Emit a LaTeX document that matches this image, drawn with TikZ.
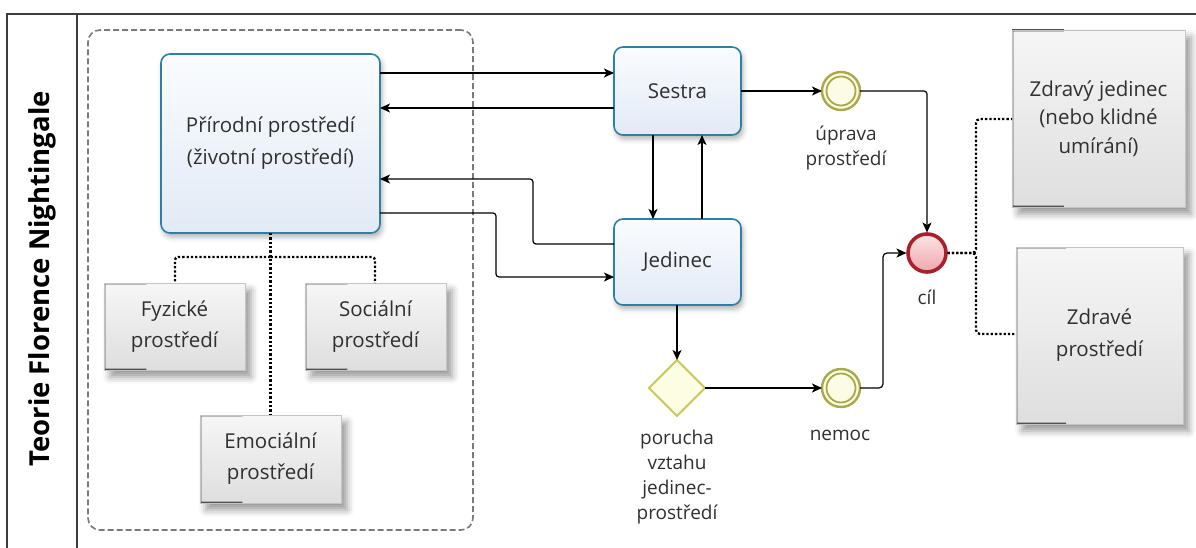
\documentclass[tikz,border=0pt]{standalone}
\usepackage{fontspec}
\setmainfont{Open Sans}
\usetikzlibrary{arrows.meta,shapes.geometric,shadows.blur,calc}

\definecolor{frameline}{HTML}{3C3C3C}
\definecolor{groupdash}{HTML}{7A7A7A}
\definecolor{taskborder}{HTML}{2F7EA6}
\definecolor{tasktop}{HTML}{FAFCFE}
\definecolor{taskbottom}{HTML}{E2EAF6}
\definecolor{databorder}{HTML}{C4C4C4}
\definecolor{dataedge}{HTML}{505050}
\definecolor{datatop}{HTML}{F6F6F6}
\definecolor{databottom}{HTML}{DEDEDE}
\definecolor{eventring}{HTML}{A9A94A}
\definecolor{eventfill}{HTML}{FBFBE6}
\definecolor{endring}{HTML}{A8202C}
\definecolor{endtop}{HTML}{FCE4E4}
\definecolor{endbottom}{HTML}{EEA6AE}
\definecolor{gateborder}{HTML}{C8C85A}
\definecolor{gatefill}{HTML}{FDFDE3}
\definecolor{textgray}{HTML}{303030}

\tikzset{
  frame/.style={draw=frameline, line width=1.2pt},
  groupbox/.style={rectangle, draw=groupdash, line width=1.6pt, rounded corners=12pt,
    dash pattern=on 6pt off 3pt, inner sep=0pt, outer sep=0pt},
  taskbox/.style={rectangle, rounded corners=9pt, draw=taskborder, line width=1.6pt,
    top color=tasktop, bottom color=taskbottom, align=center, text=textgray,
    font=\fontsize{20.5}{32}\selectfont, inner sep=0pt, outer sep=0pt,
    blur shadow={shadow xshift=2pt, shadow yshift=-4pt, shadow blur radius=5pt, shadow opacity=30}},
  databox/.style={rectangle, draw=databorder, line width=0.8pt,
    top color=datatop, bottom color=databottom, align=center, text=textgray,
    font=\fontsize{20.5}{31}\selectfont, inner sep=0pt, outer sep=0pt,
    blur shadow={shadow xshift=6pt, shadow yshift=-7pt, shadow blur radius=7pt, shadow opacity=40},
    path picture={
      \draw[dataedge, line width=2.6pt]
        ($(path picture bounding box.north west)!0.3!(path picture bounding box.north east)$)
        -- (path picture bounding box.north west)
        -- (path picture bounding box.south west)
        -- ($(path picture bounding box.south west)!0.3!(path picture bounding box.south east)$);
    }},
  eventnode/.style={circle, minimum size=38pt, inner sep=0pt, outer sep=0pt,
    draw=eventring, line width=2.4pt, fill=eventfill,
    path picture={\draw[eventring, line width=1.8pt]
      (path picture bounding box.center) circle[radius=14.5pt];}},
  endnode/.style={circle, minimum size=38pt, inner sep=0pt, outer sep=1.5pt,
    draw=endring, line width=3.6pt, top color=endtop, bottom color=endbottom},
  gatenode/.style={diamond, minimum width=56pt, minimum height=56pt, inner sep=0pt,
    outer sep=0pt, draw=gateborder, line width=2pt, fill=gatefill},
  lbl/.style={align=center, text=textgray, font=\fontsize{19}{25}\selectfont, inner sep=0pt},
  arr/.style={draw=black, line width=1.2pt,
    -{Stealth[length=10pt, width=9pt, inset=2.5pt]}},
  dotline/.style={draw=black, line width=2.3pt, dash pattern=on 2.3pt off 2pt}
}

\begin{document}
\begin{tikzpicture}[x=1pt, y=-1pt]
  \useasboundingbox (0,0) rectangle (1196,548);

  % lane frame and title
  \draw[frame] (1196,14) -- (7,14) -- (7,548);
  \draw[frame] (77,14) -- (77,548);
  \node[rotate=90, font=\bfseries\fontsize{27.5}{30}\selectfont, text=black] (lane) at (42,279)
    {Teorie Florence Nightingale};

  % environment group
  \node[groupbox, minimum width=385pt, minimum height=500pt] (grp) at (280.5,280) {};

  % environment nodes
  \node[taskbox, minimum width=219pt, minimum height=179pt] (prir) at (270.5,143.5)
    {Přírodní prostředí\\(životní prostředí)};
  \node[databox, minimum width=141pt, minimum height=87pt] (fyz) at (174.5,326.5)
    {Fyzické\\prostředí};
  \node[databox, minimum width=141pt, minimum height=87pt] (soc) at (375.5,326.5)
    {Sociální\\prostředí};
  \node[databox, minimum width=141pt, minimum height=88pt] (emo) at (270.5,459)
    {Emociální\\prostředí};

  % actors
  \node[taskbox, minimum width=127pt, minimum height=88pt] (sestra) at (677.5,91) {Sestra};
  \node[taskbox, minimum width=127pt, minimum height=86pt] (jedinec) at (677.5,262) {Jedinec};

  % events and gateway
  \node[eventnode] (upr) at (841,91) {};
  \node[eventnode] (nemoc) at (841,388) {};
  \node[endnode] (cil) at (927,253) {};
  \node[gatenode] (gate) at (677,388) {};

  \node[lbl] (uprlbl) at (846,148) {úprava\\prostředí};
  \node[lbl] (cillbl) at (927,297) {cíl};
  \node[lbl] (nemoclbl) at (840,435) {nemoc};
  \node[lbl] (gatelbl) at (677,477) {porucha\\vztahu\\jedinec-\\prostředí};

  % outcomes
  \node[databox, minimum width=173pt, minimum height=177pt,
    font=\fontsize{20.5}{28.5}\selectfont] (zj) at (1098.5,118.5)
    {Zdravý jedinec\\(nebo klidné\\umírání)};
  \node[databox, minimum width=167pt, minimum height=177pt,
    font=\fontsize{20.5}{32}\selectfont] (zp) at (1099.5,335.5)
    {Zdravé\\prostředí};

  % associations inside the group
  \draw[dotline] (prir.south) -- (emo.north);
  \draw[dotline, rounded corners=3pt] (270.5,257) -- (175,257) -- (fyz.north -| 175,0);
  \draw[dotline, rounded corners=3pt] (270.5,257) -- (375,257) -- (soc.north -| 375,0);

  % flows between environment, nurse and individual
  \draw[arr] (prir.east |- 0,73) -- (sestra.west |- 0,73);
  \draw[arr] (sestra.west |- 0,108) -- (prir.east |- 0,108);
  \draw[arr, rounded corners=3pt] (jedinec.west |- 0,244) -- (533,244) -- (533,179)
    -- (prir.east |- 0,179);
  \draw[arr, rounded corners=3pt] (prir.east |- 0,213) -- (496,213) -- (496,277)
    -- (jedinec.west |- 0,277);
  \draw[arr] (sestra.south -| 653,0) -- (jedinec.north -| 653,0);
  \draw[arr] (jedinec.north -| 702,0) -- (sestra.south -| 702,0);

  % flows towards the goal
  \draw[arr] (sestra.east |- upr.west) -- (upr.west);
  \draw[arr, rounded corners=3pt] (upr.east) -| (cil.north);
  \draw[arr] (jedinec.south -| gate.north) -- (gate.north);
  \draw[arr] (gate.east) -- (nemoc.west);
  \draw[arr, rounded corners=4pt] (nemoc.east) -- (883,388) -- (883,253) -- (cil.west);

  % goal associations
  \draw[dotline, rounded corners=4pt] (cil.east) -- (976,253) -- (976,119) -- (zj.west |- 0,119);
  \draw[dotline, rounded corners=4pt] (cil.east) -- (976,253) -- (976,334) -- (zp.west |- 0,334);
\end{tikzpicture}
\end{document}
